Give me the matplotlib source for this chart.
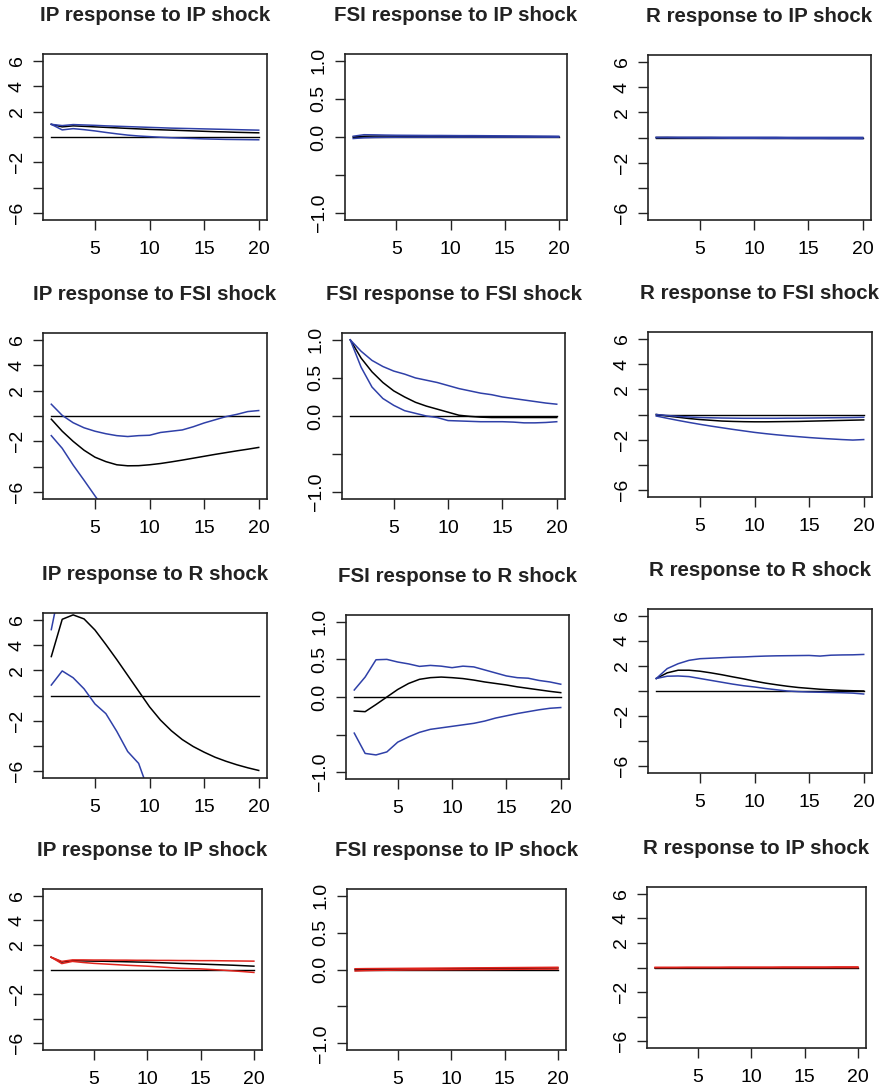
import matplotlib
matplotlib.use("Agg")
import matplotlib.pyplot as plt
import numpy as np

plt.rcParams['font.family'] = ['Liberation Sans', 'DejaVu Sans']

# ---------------- data ----------------
horizon = list(range(1, 21))

titles = [
    "IP response to IP shock", "FSI response to IP shock", "R response to IP shock",
    "IP response to FSI shock", "FSI response to FSI shock", "R response to FSI shock",
    "IP response to R shock", "FSI response to R shock", "R response to R shock",
    "IP response to IP shock", "FSI response to IP shock", "R response to IP shock",
]

# row 1 (blue bands)
ip_ip_resp = [1.0, 0.80, 0.88, 0.84, 0.80, 0.76, 0.72, 0.68, 0.64, 0.60, 0.57, 0.54, 0.51, 0.48, 0.45, 0.42, 0.40, 0.37, 0.35, 0.33]
ip_ip_lo = [1.0, 0.56, 0.66, 0.58, 0.48, 0.36, 0.25, 0.15, 0.08, 0.03, -0.02, -0.06, -0.09, -0.12, -0.15, -0.17, -0.19, -0.20, -0.21, -0.22]
ip_ip_hi = [1.0, 0.90, 0.98, 0.95, 0.92, 0.88, 0.85, 0.82, 0.79, 0.76, 0.73, 0.70, 0.68, 0.66, 0.64, 0.62, 0.60, 0.58, 0.56, 0.54]

fsi_ip_resp = [0.0, 0.010, 0.012, 0.012, 0.011, 0.010, 0.010, 0.009, 0.009, 0.008, 0.008, 0.007, 0.007, 0.006, 0.006, 0.005, 0.005, 0.004, 0.004, 0.003]
fsi_ip_lo = [-0.02, -0.010, -0.006, -0.004, -0.003, -0.002, -0.002, -0.002, -0.002, -0.002, -0.002, -0.002, -0.002, -0.002, -0.002, -0.002, -0.002, -0.002, -0.002, -0.002]
fsi_ip_hi = [0.01, 0.030, 0.028, 0.025, 0.023, 0.022, 0.021, 0.020, 0.020, 0.019, 0.018, 0.018, 0.017, 0.016, 0.015, 0.014, 0.013, 0.012, 0.011, 0.010]

r_ip_resp = [0.0, 0.00, -0.01, -0.01, -0.01, -0.01, -0.02, -0.02, -0.02, -0.02, -0.02, -0.02, -0.02, -0.03, -0.03, -0.03, -0.03, -0.03, -0.03, -0.03]
r_ip_lo = [0.0, -0.02, -0.03, -0.04, -0.04, -0.05, -0.05, -0.06, -0.06, -0.06, -0.07, -0.07, -0.07, -0.08, -0.08, -0.08, -0.09, -0.09, -0.09, -0.10]
r_ip_hi = [0.0, 0.02, 0.02, 0.02, 0.02, 0.02, 0.02, 0.02, 0.02, 0.02, 0.02, 0.02, 0.01, 0.01, 0.01, 0.01, 0.01, 0.01, 0.01, 0.01]

# row 2
ip_fsi_resp = [-0.25, -1.20, -2.00, -2.70, -3.25, -3.60, -3.85, -3.93, -3.92, -3.85, -3.75, -3.62, -3.48, -3.33, -3.18, -3.03, -2.89, -2.75, -2.62, -2.48]
ip_fsi_lo = [-1.55, -2.55, -3.87, -5.07, -6.30, -7.50, -8.60, -9.50, -10.2, -10.8, -11.2, -11.5, -11.7, -11.8, -11.8, -11.7, -11.6, -11.4, -11.2, -11.0]
ip_fsi_hi = [0.93, 0.05, -0.53, -0.93, -1.20, -1.40, -1.55, -1.62, -1.55, -1.52, -1.30, -1.20, -1.10, -0.85, -0.55, -0.30, -0.05, 0.13, 0.35, 0.43]

fsi_fsi_resp = [1.0, 0.76, 0.58, 0.44, 0.33, 0.25, 0.18, 0.13, 0.09, 0.05, 0.01, -0.005, -0.015, -0.02, -0.02, -0.02, -0.02, -0.02, -0.02, -0.02]
fsi_fsi_lo = [1.0, 0.64, 0.38, 0.23, 0.14, 0.07, 0.035, 0.0, -0.02, -0.06, -0.065, -0.07, -0.075, -0.075, -0.075, -0.08, -0.09, -0.09, -0.085, -0.075]
fsi_fsi_hi = [1.0, 0.85, 0.73, 0.65, 0.59, 0.55, 0.50, 0.47, 0.44, 0.40, 0.36, 0.33, 0.30, 0.28, 0.25, 0.23, 0.21, 0.19, 0.17, 0.155]

r_fsi_resp = [0.0, -0.12, -0.22, -0.32, -0.40, -0.46, -0.52, -0.55, -0.57, -0.58, -0.58, -0.57, -0.56, -0.55, -0.53, -0.51, -0.49, -0.47, -0.45, -0.43]
r_fsi_lo = [-0.12, -0.30, -0.47, -0.63, -0.78, -0.92, -1.05, -1.18, -1.30, -1.42, -1.52, -1.61, -1.69, -1.76, -1.83, -1.89, -1.94, -1.99, -2.03, -1.99]
r_fsi_hi = [0.0, -0.08, -0.15, -0.20, -0.24, -0.26, -0.28, -0.29, -0.30, -0.30, -0.30, -0.30, -0.29, -0.29, -0.28, -0.27, -0.26, -0.25, -0.24, -0.22]

# row 3
ip_r_resp = [3.09, 6.05, 6.40, 6.08, 5.20, 4.05, 2.85, 1.60, 0.35, -0.90, -1.95, -2.80, -3.50, -4.05, -4.50, -4.90, -5.22, -5.50, -5.74, -5.95]
ip_r_lo = [0.83, 1.95, 1.41, 0.53, -0.67, -1.44, -2.85, -4.45, -5.39, -7.80, -9.00, -10.1, -11.0, -11.8, -12.4, -12.9, -13.2, -13.4, -13.5, -13.5]
ip_r_hi = [5.23, 9.50, 11.0, 11.3, 11.0, 10.5, 10.0, 9.5, 9.0, 8.6, 8.2, 7.9, 7.7, 7.5, 7.4, 7.3, 7.2, 7.1, 7.1, 7.0]

fsi_r_resp = [-0.186, -0.195, -0.10, 0.0, 0.10, 0.18, 0.235, 0.257, 0.265, 0.257, 0.245, 0.225, 0.20, 0.18, 0.16, 0.135, 0.115, 0.095, 0.075, 0.058]
fsi_r_lo = [-0.48, -0.75, -0.77, -0.73, -0.60, -0.53, -0.47, -0.43, -0.41, -0.39, -0.37, -0.35, -0.32, -0.28, -0.25, -0.22, -0.195, -0.17, -0.15, -0.14]
fsi_r_hi = [0.093, 0.265, 0.495, 0.50, 0.465, 0.44, 0.407, 0.42, 0.41, 0.39, 0.41, 0.40, 0.36, 0.32, 0.28, 0.257, 0.25, 0.22, 0.20, 0.17]

r_r_resp = [1.0, 1.45, 1.66, 1.66, 1.58, 1.45, 1.30, 1.13, 0.97, 0.79, 0.63, 0.50, 0.38, 0.28, 0.21, 0.14, 0.09, 0.05, 0.02, 0.0]
r_r_lo = [1.0, 1.18, 1.20, 1.15, 1.00, 0.85, 0.70, 0.55, 0.42, 0.32, 0.20, 0.10, 0.0, -0.05, -0.08, -0.10, -0.12, -0.14, -0.17, -0.24]
r_r_hi = [1.0, 1.79, 2.18, 2.45, 2.58, 2.62, 2.66, 2.70, 2.72, 2.76, 2.79, 2.81, 2.82, 2.83, 2.84, 2.79, 2.86, 2.88, 2.89, 2.92]

# row 4 (red bands)
ip_ip2_resp = [1.0, 0.60, 0.72, 0.70, 0.68, 0.67, 0.65, 0.63, 0.61, 0.59, 0.56, 0.53, 0.50, 0.47, 0.44, 0.41, 0.38, 0.35, 0.31, 0.27]
ip_ip2_lo = [1.0, 0.48, 0.66, 0.57, 0.50, 0.45, 0.40, 0.35, 0.31, 0.27, 0.22, 0.16, 0.10, 0.07, 0.05, 0.0, -0.05, -0.11, -0.17, -0.24]
ip_ip2_hi = [1.0, 0.66, 0.78, 0.78, 0.77, 0.77, 0.76, 0.76, 0.75, 0.75, 0.74, 0.74, 0.73, 0.73, 0.72, 0.72, 0.71, 0.70, 0.69, 0.68]

fsi_ip2_resp = [0.0, 0.002, 0.003, 0.004, 0.005, 0.006, 0.007, 0.008, 0.009, 0.010, 0.011, 0.012, 0.013, 0.014, 0.015, 0.016, 0.017, 0.018, 0.019, 0.020]
fsi_ip2_lo = [-0.02, -0.015, -0.012, -0.010, -0.008, -0.006, -0.005, -0.004, -0.003, -0.002, -0.001, 0.0, 0.0, 0.001, 0.002, 0.003, 0.004, 0.005, 0.005, 0.006]
fsi_ip2_hi = [0.01, 0.012, 0.013, 0.014, 0.015, 0.016, 0.017, 0.018, 0.019, 0.020, 0.021, 0.022, 0.023, 0.024, 0.025, 0.026, 0.027, 0.028, 0.029, 0.030]

r_ip2_resp = [0.0, 0.0, 0.0, 0.0, 0.0, 0.0, 0.0, 0.0, 0.0, 0.0, 0.0, 0.0, 0.0, 0.0, 0.0, 0.0, 0.0, 0.0, 0.0, 0.0]
r_ip2_lo = [0.0, -0.01, -0.01, -0.01, -0.01, -0.01, -0.01, -0.01, -0.01, -0.01, -0.01, -0.01, -0.01, -0.01, -0.01, -0.01, -0.01, -0.01, -0.01, -0.01]
r_ip2_hi = [0.0, 0.01, 0.01, 0.02, 0.02, 0.02, 0.02, 0.03, 0.03, 0.03, 0.03, 0.03, 0.04, 0.04, 0.04, 0.04, 0.04, 0.05, 0.05, 0.05]

panels = [
    (ip_ip_resp, ip_ip_lo, ip_ip_hi), (fsi_ip_resp, fsi_ip_lo, fsi_ip_hi), (r_ip_resp, r_ip_lo, r_ip_hi),
    (ip_fsi_resp, ip_fsi_lo, ip_fsi_hi), (fsi_fsi_resp, fsi_fsi_lo, fsi_fsi_hi), (r_fsi_resp, r_fsi_lo, r_fsi_hi),
    (ip_r_resp, ip_r_lo, ip_r_hi), (fsi_r_resp, fsi_r_lo, fsi_r_hi), (r_r_resp, r_r_lo, r_r_hi),
    (ip_ip2_resp, ip_ip2_lo, ip_ip2_hi), (fsi_ip2_resp, fsi_ip2_lo, fsi_ip2_hi), (r_ip2_resp, r_ip2_lo, r_ip2_hi),
]

x_ticks = [5, 10, 15, 20]
wide_ticks = [-6, -4, -2, 0, 2, 4, 6]
wide_labels = ["\u22126", "", "\u22122", "", "2", "4", "6"]
fsi_ticks = [-1.0, -0.5, 0.0, 0.5, 1.0]
fsi_labels = ["\u22121.0", "", "0.0", "0.5", "1.0"]

# ---------------- layout / style ----------------
W, H = 884, 1087
boxes = [
    (43, 54, 267, 220), (345, 54, 567, 220), (648, 55, 871, 220),
    (43, 333, 267, 499), (342, 333, 565, 499), (648, 332, 872, 497),
    (43, 613, 267, 778), (346, 615, 569, 779), (648, 609, 872, 773),
    (43, 889, 262, 1050), (347, 889, 566, 1050), (647, 887, 866, 1048),
]
BLUE = "#2f40a8"
RED = "#e0231c"

fig = plt.figure(figsize=(W / 100, H / 100), dpi=100)

for i, (box, title, (resp, lo, hi)) in enumerate(zip(boxes, titles, panels)):
    l, t, r, b = box
    ax = fig.add_axes([l / W, 1 - b / H, (r - l) / W, (b - t) / H])
    band_col = RED if i >= 9 else BLUE
    is_fsi = (i % 3 == 1)
    ax.axhline(0, color="black", lw=1.0, xmin=(1 - 0.24) / 20.52, xmax=(20 - 0.24) / 20.52)
    ax.plot(horizon, resp, color="black", lw=1.1)
    ax.plot(horizon, lo, color=band_col, lw=1.1)
    ax.plot(horizon, hi, color=band_col, lw=1.1)
    ax.set_xlim(0.24, 20.76)
    if is_fsi:
        ax.set_ylim(-1.09, 1.09)
        ax.set_yticks(fsi_ticks)
        ax.set_yticklabels(fsi_labels, rotation=90, va="center")
    else:
        ax.set_ylim(-6.55, 6.55)
        ax.set_yticks(wide_ticks)
        ax.set_yticklabels(wide_labels, rotation=90, va="center")
    ax.set_xticks(x_ticks)
    ax.set_xticklabels([str(v) for v in x_ticks])
    ax.tick_params(axis="both", direction="out", length=7, width=1.0, labelsize=14, color="#222222")
    ax.tick_params(axis="x", pad=8)
    ax.tick_params(axis="y", pad=5.5)
    for sp in ax.spines.values():
        sp.set_linewidth(1.2)
        sp.set_color("#222222")
    ax.annotate(title, xy=(0.5, 1.0), xycoords="axes fraction", xytext=(0, 27.5),
                textcoords="offset points", ha="center", va="center",
                fontsize=14.8, fontweight="bold", color="#222222")

fig.savefig("out.png", dpi=100, facecolor="white")
